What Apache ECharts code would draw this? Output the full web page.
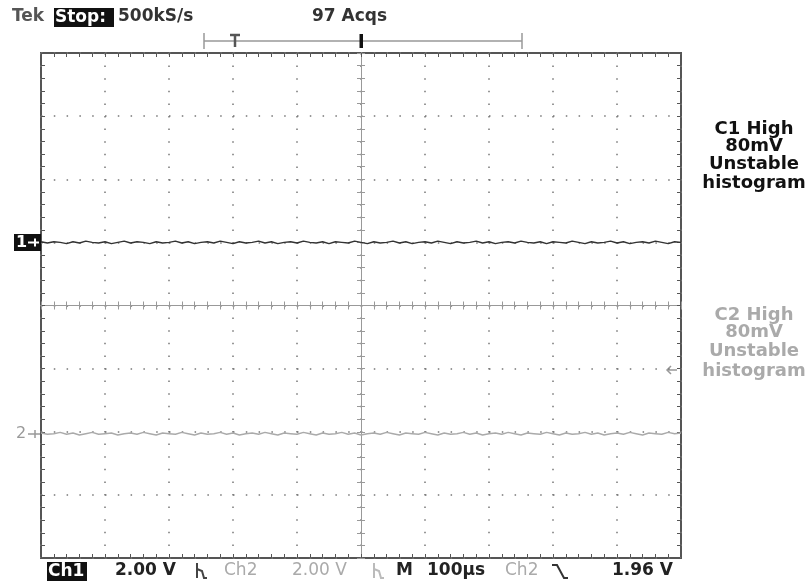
<!DOCTYPE html>
<html>
<head>
<meta charset="utf-8">
<script src="https://cdn.jsdelivr.net/npm/echarts@6/dist/echarts.min.js"></script>
<style>
html,body{margin:0;padding:0;background:#fff;}
#c{width:810px;height:582px;}
</style>
</head>
<body>
<div id="c"></div>
<script>
// Time axis (µs), 100 µs/div, 10 divisions, one sample every 10 µs
var timeUs = [-500,-490,-480,-470,-460,-450,-440,-430,-420,-410,-400,-390,-380,-370,-360,-350,-340,-330,-320,-310,-300,-290,-280,-270,-260,-250,-240,-230,-220,-210,-200,-190,-180,-170,-160,-150,-140,-130,-120,-110,-100,-90,-80,-70,-60,-50,-40,-30,-20,-10,0,10,20,30,40,50,60,70,80,90,100,110,120,130,140,150,160,170,180,190,200,210,220,230,240,250,260,270,280,290,300,310,320,330,340,350,360,370,380,390,400,410,420,430,440,450,460,470,480,490,500];
// Ch1 trace in divisions (ground marker at +1 div)
var ch1Div = [1.01,0.99,1.01,1.00,0.98,1.01,0.99,1.02,1.00,0.99,1.01,0.98,1.00,1.02,0.99,1.01,1.00,0.98,1.01,0.99,1.00,1.02,0.99,1.01,0.98,1.00,1.01,0.99,1.02,1.00,0.98,1.01,0.99,1.00,1.02,0.99,1.01,0.98,1.00,1.01,0.99,1.02,1.00,0.99,1.01,0.98,1.01,1.00,0.99,1.02,1.00,0.98,1.01,0.99,1.00,1.02,0.99,1.01,0.98,1.00,1.01,0.99,1.02,1.00,0.98,1.01,0.99,1.00,1.02,0.99,1.01,0.98,1.00,1.01,0.99,1.02,1.00,0.99,1.01,0.98,1.01,1.00,0.99,1.02,1.00,0.98,1.01,0.99,1.00,1.02,0.99,1.01,0.98,1.00,1.01,0.99,1.02,1.00,0.98,1.01,1.00];
// Ch2 trace in divisions (ground marker at -2 div)
var ch2Div = [-2.02,-2.04,-2.03,-2.01,-2.04,-2.02,-2.05,-2.03,-2.01,-2.04,-2.03,-2.02,-2.05,-2.03,-2.02,-2.04,-2.01,-2.03,-2.05,-2.02,-2.03,-2.04,-2.01,-2.03,-2.05,-2.02,-2.04,-2.03,-2.01,-2.04,-2.02,-2.05,-2.03,-2.02,-2.04,-2.01,-2.03,-2.05,-2.02,-2.03,-2.04,-2.01,-2.03,-2.05,-2.02,-2.04,-2.03,-2.01,-2.04,-2.02,-2.05,-2.03,-2.02,-2.04,-2.01,-2.03,-2.05,-2.02,-2.03,-2.04,-2.01,-2.03,-2.05,-2.02,-2.04,-2.03,-2.01,-2.04,-2.02,-2.05,-2.03,-2.02,-2.04,-2.01,-2.03,-2.05,-2.02,-2.03,-2.04,-2.01,-2.03,-2.05,-2.02,-2.04,-2.03,-2.01,-2.04,-2.02,-2.05,-2.03,-2.02,-2.04,-2.01,-2.03,-2.05,-2.02,-2.03,-2.04,-2.01,-2.03,-2.02];
var ch1Info = ['C1 High','80mV','Unstable','histogram'];
var ch2Info = ['C2 High','80mV','Unstable','histogram'];
var topTexts = {tek:'Tek', stop:'Stop:', rate:'500kS/s', acqs:'97 Acqs'};
var bottomTexts = {ch1:'Ch1', v1:'2.00 V', ch2:'Ch2', v2:'2.00 V', m:'M', tb:'100µs', trigSrc:'Ch2', trigLvl:'1.96 V'};

var FONT = 'DejaVu Sans';
var FRAME = '#555';
var chart = echarts.init(document.getElementById('c'), null, {renderer:'canvas'});

function xAx(pos, onZero, inside, split, color){
  return {
    type:'value', min:-500, max:500, interval:100, position:pos,
    axisLine:{show:true, onZero:onZero, onZeroAxisIndex:0, lineStyle:{color:color, width:onZero?1:0}},
    axisTick:{show:true, inside:inside, length:4, lineStyle:{color:color}},
    minorTick:{show:true, splitNumber:5, length:4, lineStyle:{color:color}},
    axisLabel:{show:false},
    splitLine:{show:split, lineStyle:{color:'#777', width:1.5, type:[1.5,11.1]}},
    minorSplitLine:{show:false}
  };
}
function yAx(pos, onZero, inside, split, color){
  return {
    type:'value', min:-4, max:4, interval:1, position:pos,
    axisLine:{show:true, onZero:onZero, onZeroAxisIndex:0, lineStyle:{color:color, width:onZero?1:0}},
    axisTick:{show:true, inside:inside, length:4, lineStyle:{color:color}},
    minorTick:{show:true, splitNumber:5, length:4, lineStyle:{color:color}},
    axisLabel:{show:false},
    splitLine:{show:split, lineStyle:{color:'#777', width:1.5, type:[1.5,11.3]}},
    minorSplitLine:{show:false}
  };
}

var g = [];
function txt(x,y,s,opt){
  opt = opt||{};
  g.push({type:'text', x:x, y:y, z:10, style:{text:s, font:(opt.weight||'bold')+' '+(opt.size||17)+'px "'+FONT+'"', fill:opt.color||'#222', textAlign:opt.align||'left', textVerticalAlign:'middle'}});
}
// top bar
txt(12,17,topTexts.tek,{color:'#555'});
g.push({type:'rect', shape:{x:54,y:8,width:60,height:19}, style:{fill:'#111'}, z:9});
txt(55,17.5,topTexts.stop,{color:'#fff'});
txt(118,17,topTexts.rate,{color:'#333'});
txt(312,17,topTexts.acqs,{color:'#333'});
// record bracket
g.push({type:'polyline', shape:{points:[[204,41],[522,41]]}, style:{stroke:'#999', lineWidth:1.5}});
g.push({type:'polyline', shape:{points:[[204,33],[204,49]]}, style:{stroke:'#999', lineWidth:1.5}});
g.push({type:'polyline', shape:{points:[[522,33],[522,49]]}, style:{stroke:'#999', lineWidth:1.5}});
g.push({type:'polyline', shape:{points:[[230,35],[240,35]]}, style:{stroke:'#555', lineWidth:2.5}});
g.push({type:'polyline', shape:{points:[[235,35],[235,47]]}, style:{stroke:'#555', lineWidth:2.5}});
g.push({type:'rect', shape:{x:359.5,y:34,width:3.5,height:14}, style:{fill:'#111'}});
// channel markers
g.push({type:'rect', shape:{x:14,y:234,width:27,height:17}, style:{fill:'#111'}, z:9});
txt(16,242.5,'1',{color:'#fff', size:16});
g.push({type:'polyline', shape:{points:[[28,242.5],[39,242.5]]}, style:{stroke:'#fff', lineWidth:2}, z:10});
g.push({type:'polyline', shape:{points:[[35,238.5],[35,246.5]]}, style:{stroke:'#fff', lineWidth:2}, z:10});
txt(16,434,'2',{color:'#999', size:16, weight:'normal'});
g.push({type:'polyline', shape:{points:[[28,434],[40,434]]}, style:{stroke:'#999', lineWidth:1.5}});
g.push({type:'polyline', shape:{points:[[35,430],[35,438]]}, style:{stroke:'#999', lineWidth:1.5}});
// trigger level arrow on right
g.push({type:'polyline', shape:{points:[[667,370],[677,370]]}, style:{stroke:'#999', lineWidth:1.5}});
g.push({type:'polyline', shape:{points:[[671,366],[667,370],[671,374]]}, style:{stroke:'#999', lineWidth:1.5}});
// right info text
var c1y=[129,146,164,183], c2y=[315,332,351,371];
ch1Info.forEach(function(s,i){ txt(754,c1y[i],s,{align:'center', color:'#111', size:18}); });
ch2Info.forEach(function(s,i){ txt(754,c2y[i],s,{align:'center', color:'#aaa', size:18}); });
// bottom bar
g.push({type:'rect', shape:{x:47,y:562,width:40,height:19}, style:{fill:'#111'}, z:9});
txt(48,571.5,bottomTexts.ch1,{color:'#fff'});
txt(115,571,bottomTexts.v1,{color:'#222'});
g.push({type:'polyline', shape:{points:[[197,563],[197,578]]}, style:{stroke:'#444', lineWidth:2}});
g.push({type:'polyline', shape:{points:[[197,569],[202,571],[204,578],[207,578]]}, style:{stroke:'#444', lineWidth:2}});
txt(224,571,bottomTexts.ch2,{color:'#aaa', weight:'normal'});
txt(292,571,bottomTexts.v2,{color:'#aaa', weight:'normal'});
g.push({type:'polyline', shape:{points:[[374,563],[374,578]]}, style:{stroke:'#bbb', lineWidth:2}});
g.push({type:'polyline', shape:{points:[[374,569],[379,571],[381,578],[384,578]]}, style:{stroke:'#bbb', lineWidth:2}});
txt(396,571,bottomTexts.m,{color:'#222'});
txt(427,571,bottomTexts.tb,{color:'#222'});
txt(505,571,bottomTexts.trigSrc,{color:'#aaa', weight:'normal'});
g.push({type:'polyline', shape:{points:[[552,565],[557,565],[564,578],[568,578]]}, style:{stroke:'#333', lineWidth:2}});
txt(612,571,bottomTexts.trigLvl,{color:'#222'});

function pairs(ys){ return timeUs.map(function(t,i){ return [t, ys[i]]; }); }

chart.setOption({
  animation:false,
  backgroundColor:'#fff',
  grid:{left:41, top:53, width:640, height:505, show:true, borderColor:FRAME, borderWidth:2, backgroundColor:'transparent'},
  xAxis:[
    xAx('bottom', false, true, true, FRAME),
    xAx('top', false, true, false, FRAME),
    xAx('bottom', true, true, false, '#999'),
    xAx('top', true, true, false, '#999')
  ],
  yAxis:[
    yAx('left', false, true, true, FRAME),
    yAx('right', false, true, false, FRAME),
    yAx('left', true, true, false, '#999'),
    yAx('right', true, true, false, '#999')
  ],
  series:[
    {type:'line', xAxisIndex:0, yAxisIndex:0, data:pairs(ch1Div), symbol:'none', lineStyle:{color:'#333', width:1.5}, z:5},
    {type:'line', xAxisIndex:0, yAxisIndex:0, data:pairs(ch2Div), symbol:'none', lineStyle:{color:'#aaa', width:1.5}, z:5}
  ],
  graphic:g
});
</script>
</body>
</html>
